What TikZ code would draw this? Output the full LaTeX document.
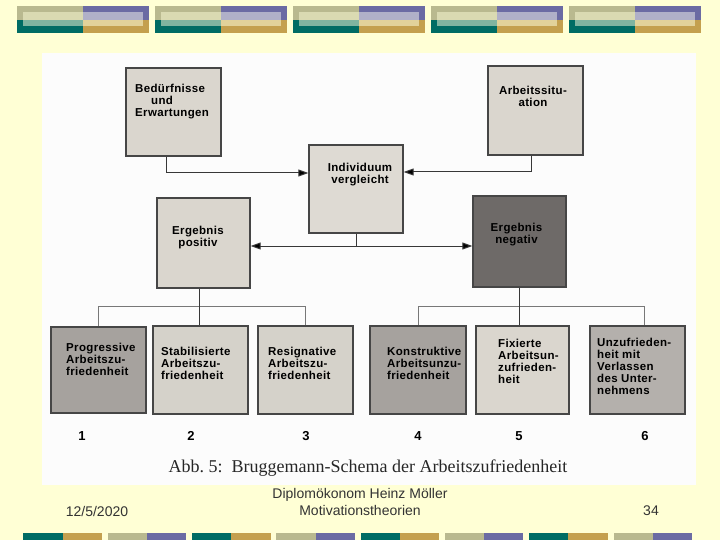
\documentclass[tikz,border=0pt]{standalone}
\usepackage{fontspec}
\setmainfont{Liberation Sans}
\newfontfamily\capfont{Liberation Serif}
\usetikzlibrary{arrows.meta}
\definecolor{bg}{RGB}{255,255,213}
\definecolor{olv}{RGB}{185,185,143}
\definecolor{olvl}{RGB}{218,218,178}
\definecolor{tel}{RGB}{0,108,100}
\definecolor{tell}{RGB}{128,180,160}
\definecolor{pur}{RGB}{107,107,163}
\definecolor{purl}{RGB}{176,176,200}
\definecolor{gld}{RGB}{196,160,78}
\definecolor{gldl}{RGB}{226,210,154}
\definecolor{boxline}{RGB}{70,70,70}
\definecolor{lineg}{RGB}{55,55,55}
\definecolor{busg}{RGB}{120,120,120}
\definecolor{lightg}{RGB}{218,214,206}
\definecolor{midg}{RGB}{180,176,172}
\definecolor{darkg}{RGB}{166,162,158}
\definecolor{deepg}{RGB}{110,106,104}
\definecolor{foot}{RGB}{51,51,51}
\tikzset{
  box/.style={draw=boxline, line width=1.4pt, rectangle, inner sep=0pt},
  txt/.style={font=\fontsize{11.5}{12}\selectfont\bfseries\addfontfeature{LetterSpace=3}, align=left, inner sep=0pt, text=black},
  ctxt/.style={txt, align=center, anchor=north},
  num/.style={font=\fontsize{13}{13}\selectfont\bfseries, inner sep=0pt},
  conn/.style={draw=lineg, line width=1pt},
  busline/.style={draw=busg, line width=0.9pt},
  arr/.style={conn, -{Triangle[length=10pt,width=7pt,fill=black]}},
  dbl/.style={conn, {Triangle[length=10pt,width=7pt,fill=black]}-{Triangle[length=10pt,width=7pt,fill=black]}},
  foottxt/.style={font=\fontsize{14}{16.5}\selectfont, text=foot, inner sep=0pt, align=center}
}
\begin{document}
\begin{tikzpicture}[x=1pt,y=-1pt]
\useasboundingbox (0,0) rectangle (720,540);
\fill[bg] (0,0) rectangle (720,540);
% top decoration
\foreach \i in {0,...,4}{
  \pgfmathsetmacro\xa{17+138*\i}
  \pgfmathsetmacro\xm{\xa+66}
  \pgfmathsetmacro\xb{\xa+132}
  \pgfmathsetmacro\xc{\xa+6}
  \pgfmathsetmacro\xd{\xa+126}
  \fill[olv] (\xa,6) rectangle (\xm,20);
  \fill[tel] (\xa,20) rectangle (\xm,33);
  \fill[pur] (\xm,6) rectangle (\xb,20);
  \fill[gld] (\xm,20) rectangle (\xb,33);
  \fill[olvl] (\xc,12) rectangle (\xm,20);
  \fill[tell] (\xc,20) rectangle (\xm,26);
  \fill[purl] (\xm,12) rectangle (\xd,20);
  \fill[gldl] (\xm,20) rectangle (\xd,26);
}
% bottom decoration
\foreach \i in {0,...,7}{
  \pgfmathsetmacro\xa{23.4+84.3*\i}
  \pgfmathsetmacro\xm{\xa+39.25}
  \pgfmathsetmacro\xb{\xa+78.5}
  \pgfmathparse{mod(\i,2)==0 ? 1 : 0}
  \ifnum\pgfmathresult=1
    \fill[tel] (\xa,533) rectangle (\xm,540);
    \fill[gld] (\xm,533) rectangle (\xb,540);
  \else
    \fill[olv] (\xa,533) rectangle (\xm,540);
    \fill[pur] (\xm,533) rectangle (\xb,540);
  \fi
}
% scanned figure area
\fill[white!98!gray] (42,53) rectangle (696,485);
% boxes
\node[box, fill=lightg, minimum width=95pt, minimum height=88pt] (bed) at (173.5,112) {};
\node[box, fill=lightg, minimum width=95pt, minimum height=89pt] (arb) at (535.5,110.5) {};
\node[box, fill=lightg!90!white, minimum width=94pt, minimum height=88pt] (ind) at (356,189) {};
\node[box, fill=lightg, minimum width=93pt, minimum height=90pt] (pos) at (203.5,243) {};
\node[box, fill=deepg, minimum width=93pt, minimum height=91pt] (neg) at (519.5,241.5) {};
\node[box, fill=darkg, minimum width=95pt, minimum height=86pt] (b1) at (98.5,370) {};
\node[box, fill=lightg!95!gray, minimum width=95pt, minimum height=88pt] (b2) at (200.5,370) {};
\node[box, fill=lightg!95!gray, minimum width=95pt, minimum height=88pt] (b3) at (305.5,370) {};
\node[box, fill=darkg, minimum width=96pt, minimum height=88pt] (b4) at (418,370) {};
\node[box, fill=lightg, minimum width=93pt, minimum height=88pt] (b5) at (522.5,370) {};
\node[box, fill=midg, minimum width=95pt, minimum height=88pt] (b6) at (637.5,370) {};
% box texts
\node[txt, anchor=north west] (tbed) at (135,84) {Bedürfnisse\\\hspace*{16pt}und\\Erwartungen};
\node[ctxt] (tarb) at (533,86) {Arbeitssitu-\\ation};
\node[ctxt] (tind) at (360,163) {Individuum\\vergleicht};
\node[ctxt] (tpos) at (198,226) {Ergebnis\\positiv};
\node[ctxt] (tneg) at (516.5,223) {Ergebnis\\negativ};
\node[txt, anchor=north west] (tb1) at (66,343) {Progressive\\Arbeitszu-\\friedenheit};
\node[txt, anchor=north west] (tb2) at (161,347) {Stabilisierte\\Arbeitszu-\\friedenheit};
\node[txt, anchor=north west] (tb3) at (268,347) {Resignative\\Arbeitszu-\\friedenheit};
\node[txt, anchor=north west] (tb4) at (387,347) {Konstruktive\\Arbeitsunzu-\\friedenheit};
\node[txt, anchor=north west] (tb5) at (498,339) {Fixierte\\Arbeitsun-\\zufrieden-\\heit};
\node[txt, anchor=north west] (tb6) at (597,338) {Unzufrieden-\\heit mit\\Verlassen\\des Unter-\\nehmens};
% numbers
\node[num] (n1) at (82,436) {1};
\node[num] (n2) at (191,436) {2};
\node[num] (n3) at (306,436) {3};
\node[num] (n4) at (418,436) {4};
\node[num] (n5) at (519,436) {5};
\node[num] (n6) at (645,436) {6};
% caption
\node[font=\capfont\fontsize{18}{20}\selectfont, inner sep=0pt, text=black!85] (cap) at (368,468) {Abb.~5:\ \ Bruggemann-Schema der Arbeitszufriedenheit};
% connectors
\draw[arr] ([xshift=-7pt]bed.south) |- ([yshift=16pt]ind.west);
\draw[arr] ([xshift=-4.5pt]arb.south) |- ([yshift=17pt]ind.east);
\coordinate (split) at (356,246);
\draw[conn] (ind.south) -- (split);
\draw[dbl] (pos.east |- split) -- (neg.west |- split);
\coordinate (busl) at (0,306);
\draw[conn] ([xshift=-4.5pt]pos.south) -- ([xshift=-4.5pt]pos.south |- busl);
\draw[busline] (b1.north |- busl) -- (b3.north |- busl);
\draw[busline] (b1.north |- busl) -- (b1.north);
\draw[conn] ([xshift=-1.5pt]b2.north |- busl) -- ([xshift=-1.5pt]b2.north);
\draw[busline] (b3.north |- busl) -- (b3.north);
\draw[conn] (neg.south) -- (neg.south |- busl);
\draw[busline] (b4.north |- busl) -- ([xshift=6.5pt]b6.north |- busl);
\draw[busline] (b4.north |- busl) -- (b4.north);
\draw[conn] ([xshift=-3.5pt]b5.north |- busl) -- ([xshift=-3.5pt]b5.north);
\draw[busline] ([xshift=6.5pt]b6.north |- busl) -- ([xshift=6.5pt]b6.north);
% footer
\node[foottxt] (date) at (97,511) {12/5/2020};
\node[foottxt] (title) at (360,502) {Diplomökonom Heinz Möller\\Motivationstheorien};
\node[foottxt] (page) at (651,511) {34};
\end{tikzpicture}
\end{document}
